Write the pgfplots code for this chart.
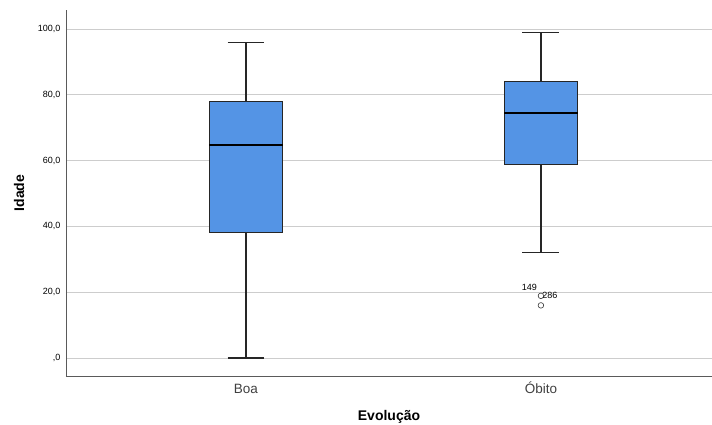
\documentclass[border=0pt]{standalone}
\usepackage{fontspec}
\setmainfont{Liberation Sans}
\usepackage{pgfplots}
\pgfplotsset{compat=1.18}
\definecolor{boxblue}{RGB}{84,148,229}
\definecolor{gridgray}{RGB}{205,205,205}
\definecolor{axgray}{RGB}{90,90,90}
\pgfplotsset{
  bx/.style={draw=black!85, fill=boxblue, line width=0.8pt, mark=none},
  md/.style={black, line width=2pt, mark=none},
  wk/.style={black!85, line width=1.2pt, mark=none},
}
\begin{document}
\begin{tikzpicture}
\useasboundingbox (-66pt,-49pt) rectangle (646pt,376pt);
\begin{axis}[
  at={(0pt,0pt)}, anchor=south west,
  scale only axis, width=646pt, height=366pt,
  xmin=0.39, xmax=2.58, ymin=-5.47, ymax=105.8,
  axis x line*=bottom, axis y line*=left,
  axis line style={axgray, line width=0.8pt, -},
  xtick={1,2}, xticklabels={Boa,Óbito},
  ytick={0,20,40,60,80,100},
  yticklabels={{,0},{20,0},{40,0},{60,0},{80,0},{100,0}},
  /pgf/number format/assume math mode=true,
  major tick length=0pt,
  ymajorgrids, grid style={gridgray, line width=0.9pt},
  y tick label style={font=\fontsize{9}{11}\selectfont, xshift=-2pt},
  x tick label style={font=\fontsize{13.5}{16}\selectfont, text=black!75,
    text height=10pt, text depth=3pt, yshift=-3.5pt},
  xlabel={\bfseries Evolução}, ylabel={\bfseries Idade},
  label style={font=\fontsize{14}{16}\selectfont},
  xlabel style={at={(axis description cs:0.5,0)}, anchor=base, yshift=-45pt},
  ylabel style={at={(axis description cs:0,0.5)}, anchor=center, yshift=47pt},
]
% Boa
\addplot[wk] coordinates {(1,77.9) (1,96)};
\addplot[wk] coordinates {(0.9375,96) (1.0625,96)};
\addplot[wk] coordinates {(1,38.2) (1,0)};
\addplot[wk] coordinates {(0.9375,0) (1.0625,0)};
\addplot[bx] coordinates {(0.875,38.2) (1.125,38.2) (1.125,77.9) (0.875,77.9) (0.875,38.2)} -- cycle;
\addplot[md] coordinates {(0.875,64.8) (1.125,64.8)};
% Obito
\addplot[wk] coordinates {(2,84) (2,98.9)};
\addplot[wk] coordinates {(1.9375,98.9) (2.0625,98.9)};
\addplot[wk] coordinates {(2,59) (2,32.1)};
\addplot[wk] coordinates {(1.9375,32.1) (2.0625,32.1)};
\addplot[bx] coordinates {(1.875,59) (2.125,59) (2.125,84) (1.875,84) (1.875,59)} -- cycle;
\addplot[md] coordinates {(1.875,74.5) (2.125,74.5)};
\addplot[only marks, mark=o, mark size=2.8pt, mark options={black!80, line width=0.6pt}] coordinates {(2,18.9) (2,16.0)};
\node[font=\fontsize{9}{10}\selectfont, inner sep=0pt, anchor=base] at (axis cs:1.961,20.67) {149};
\node[font=\fontsize{9}{10}\selectfont, inner sep=0pt, anchor=base] at (axis cs:2.0305,18.15) {286};
\end{axis}
\end{tikzpicture}
\end{document}
